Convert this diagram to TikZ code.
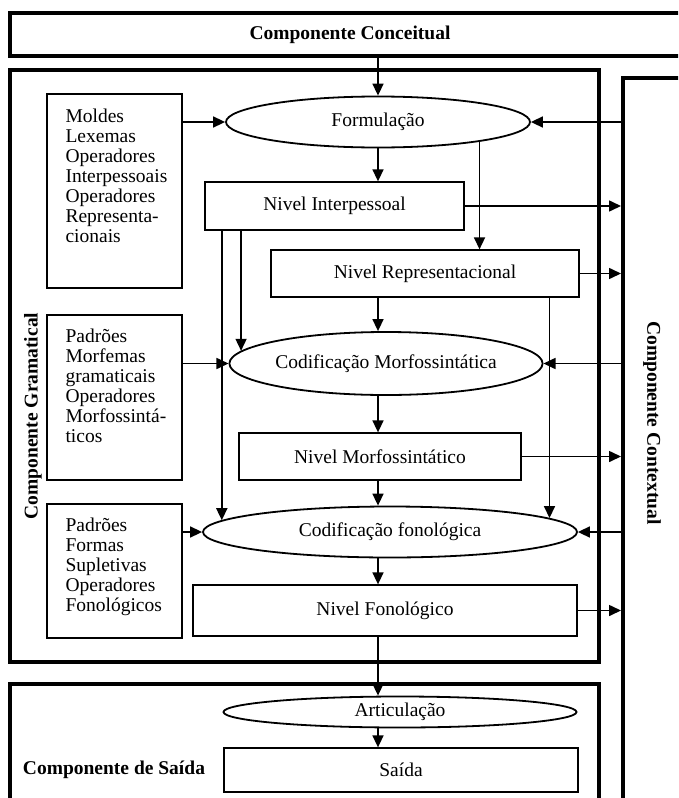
\documentclass[tikz,border=0pt]{standalone}
\usepackage{fontspec}
\setmainfont{Liberation Serif}
\usetikzlibrary{shapes.geometric}
\usetikzlibrary{arrows.meta,calc}
\tikzstyle{bigbox}=[draw,line width=4pt,inner sep=0pt]
\tikzstyle{levelbox}=[draw,line width=1.3pt,fill=white,inner sep=0pt]
\tikzstyle{process}=[ellipse,draw,line width=1.8pt,fill=white,inner sep=0pt]
\tikzstyle{listbox}=[draw,line width=1.3pt,inner sep=0pt,minimum width=135pt]
\tikzstyle{listtext}=[align=left,anchor=north west,inner sep=0pt]
\tikzstyle{comp}=[font=\fontsize{19.5}{20}\selectfont\bfseries]
\tikzstyle{edge}=[draw,line width=1.6pt,-{Triangle[length=12pt,width=11pt]}]

\begin{document}
\begin{tikzpicture}[x=1pt,y=-1pt,font=\fontsize{19.5}{20}\selectfont]
  \useasboundingbox (0,0) rectangle (678,798);
  \clip (0,0) rectangle (678,798);

    % The four components
    \node[bigbox,minimum width=680pt,minimum height=43pt,comp] (concept) at (350,34.5) {Componente Conceitual};
    \node[bigbox,minimum width=589pt,minimum height=592pt] (gram) at (304.5,366) {};
    \node[bigbox,minimum width=77pt,minimum height=752pt] (ctx) at (661.5,454) {};
    \node[bigbox,minimum width=589pt,minimum height=146pt] (out) at (304.5,757) {};
    \node[comp,rotate=90] (gramlabel) at (33,416) {Componente Gramatical};
    \node[comp,rotate=-90] (ctxlabel) at (652,423) {Componente Contextual};
    \node[comp] (outlabel) at (114,770) {Componente de Sa\'ida};

    % The lists on the left
    \foreach \pos/\name/\h in {{(114.5,191)/lex/194}, {(114.5,397.5)/pad/165}, {(114.5,571)/sup/134}}
        \node[listbox,minimum height=\h pt] (\name) at \pos {};
    \node[listtext] (lextext) at ([shift={(19,15)}]lex.north west)
        {Moldes\\Lexemas\\Operadores\\Interpessoais\\Operadores\\Representa-\\cionais};
    \node[listtext] (padtext) at ([shift={(19,14)}]pad.north west)
        {Padr\~oes\\Morfemas\\gramaticais\\Operadores\\Morfossint\'a-\\ticos};
    \node[listtext] (suptext) at ([shift={(19,14)}]sup.north west)
        {Padr\~oes\\Formas\\Supletivas\\Operadores\\Fonol\'ogicos};

    % Then the processes
    \foreach \pos/\name/\w/\h/\label in {{(378,122)/form/304/51/Formula\c{c}\~ao},
        {(386,363.5)/codmorf/297/63/Codifica\c{c}\~ao Morfossint\'atica},
        {(390,532)/codfon/374/51/Codifica\c{c}\~ao fonol\'ogica},
        {(400,712)/artic/353/31/Articula\c{c}\~ao}}
        \node[process,minimum width=\w pt,minimum height=\h pt] (\name) at \pos {\label};

    % and the levels
    \foreach \pos/\name/\w/\h/\label in {{(334.5,206)/ni/259/48/Nivel Interpessoal},
        {(425,273.5)/nr/308/47/Nivel Representacional},
        {(380,456.5)/nm/282/47/Nivel Morfossint\'atico},
        {(385,610.5)/nf/384/51/Nivel Fonol\'ogico},
        {(401,770)/saida/354/44/Sa\'ida}}
        \node[levelbox,minimum width=\w pt,minimum height=\h pt] (\name) at \pos {\label};

    % Connect the main column
    \path[edge] (form.north |- concept.south) -- (form.north);
    \foreach \source/\dest in {form/ni, nr/codmorf, codmorf/nm, nm/codfon, codfon/nf, nf/artic, artic/saida}
        \path[edge] (form.south |- \source.south) -- (form.south |- \dest.north);

    % Lists and context into the processes
    \foreach \source/\dest in {lex/form, pad/codmorf, sup/codfon}
        \path[edge] (\source.east |- \dest.west) -- (\dest.west);
    \foreach \dest in {form, codmorf, codfon}
        \path[edge] (ctx.west |- \dest.east) -- (\dest.east);

    % Levels out to the context
    \foreach \source in {ni, nr, nm, nf}
        \path[edge] (\source.east) -- (\source.east -| ctx.west);

    % Side connections
    \path[edge] (form.-11) -- (form.-11 |- nr.north);
    \path[edge] (ni.south -| codmorf.175) -- (codmorf.175);
    \path[edge] (ni.south -| codfon.176.7) -- (codfon.176.7);
    \path[edge] (nr.south -| codfon.5.6) -- (codfon.5.6);

\end{tikzpicture}
\end{document}
